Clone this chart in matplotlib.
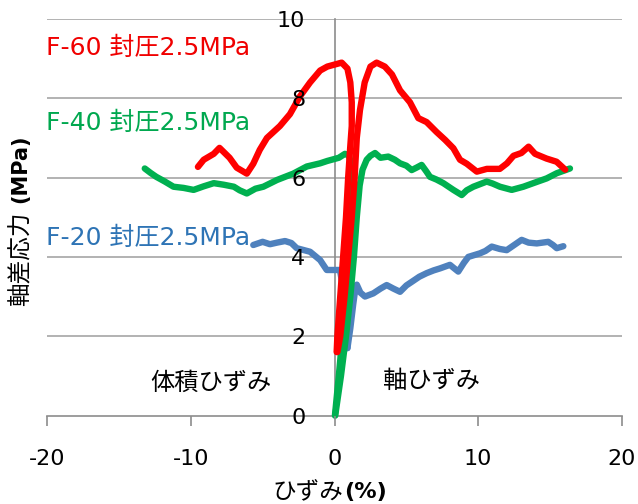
import matplotlib
matplotlib.use("Agg")
import matplotlib.pyplot as plt

plt.rcParams['font.family'] = ['DejaVu Sans', 'Noto Sans CJK JP']
plt.rcParams['axes.unicode_minus'] = False

# F-60 (red) : volumetric branch (left) and axial branch (right)
f60_vol_x = [0.15, 0.2, 0.4, 0.6, 0.8, 0.95, 1.1, 1.2, 1.2, 1.1, 0.9, 0.5, 0.0, -0.5, -1.0, -1.7, -2.4,
             -3.1, -3.8, -4.7, -5.2, -5.65, -6.1, -6.8, -7.3, -8.0, -8.4, -9.1, -9.5]
f60_vol_y = [1.6, 2.0, 3.0, 4.0, 5.0, 6.0, 6.8, 7.3, 7.9, 8.4, 8.75, 8.9, 8.85, 8.8, 8.7, 8.4, 8.05,
             7.6, 7.3, 7.0, 6.7, 6.35, 6.1, 6.25, 6.5, 6.75, 6.6, 6.45, 6.27]
f60_ax_x = [0.2, 0.4, 0.7, 0.95, 1.2, 1.4, 1.55, 1.77, 2.1, 2.5, 2.93, 3.5, 4.0, 4.56, 5.25, 5.83, 6.41,
            7.1, 7.7, 8.27, 8.73, 9.2, 9.9, 10.6, 11.5, 12.0, 12.45, 13.0, 13.5, 13.95, 14.75, 15.45, 16.05]
f60_ax_y = [1.6, 2.0, 3.0, 4.0, 5.0, 6.0, 7.0, 7.7, 8.4, 8.8, 8.9, 8.8, 8.6, 8.2, 7.9, 7.5, 7.4,
            7.15, 6.95, 6.74, 6.45, 6.35, 6.15, 6.22, 6.22, 6.36, 6.55, 6.62, 6.78, 6.6, 6.48, 6.4, 6.2]

# F-40 (green)
f40_vol_x = [0.03, 0.3, 0.55, 0.75, 0.95, 1.1, 1.2, 1.2, 1.0, 0.73, 0.3, 0.0, -0.5, -1.0, -1.93, -2.87,
             -4.0, -4.95, -5.5, -6.1, -6.6, -7.0, -7.7, -8.4, -9.1, -9.8, -10.5, -11.2, -11.8, -12.4,
             -12.8, -13.2]
f40_vol_y = [0.0, 1.0, 2.0, 3.0, 4.0, 5.0, 5.8, 6.3, 6.55, 6.6, 6.5, 6.47, 6.42, 6.36, 6.28, 6.1,
             5.94, 5.77, 5.72, 5.6, 5.68, 5.77, 5.82, 5.86, 5.78, 5.69, 5.74, 5.77, 5.9, 6.02,
             6.12, 6.23]
f40_ax_x = [0.05, 0.45, 0.8, 1.1, 1.35, 1.55, 1.75, 1.95, 2.24, 2.5, 2.82, 3.2, 3.74, 4.2, 4.56, 5.0,
            5.37, 5.7, 6.06, 6.4, 6.64, 7.1, 7.57, 8.27, 8.85, 9.2, 9.66, 10.59, 11.0, 11.51, 12.33,
            13.14, 13.83, 14.76, 15.46, 16.38]
f40_ax_y = [0.0, 1.0, 2.0, 3.0, 4.0, 5.0, 5.8, 6.2, 6.45, 6.55, 6.62, 6.5, 6.53, 6.45, 6.36, 6.3,
            6.19, 6.25, 6.32, 6.15, 6.02, 5.95, 5.86, 5.69, 5.56, 5.68, 5.77, 5.9, 5.85, 5.77, 5.69,
            5.77, 5.86, 5.98, 6.11, 6.23]

# F-20 (blue)
f20_vol_x = [0.9, 0.8, 0.6, 0.38, 0.0, -0.54, -1.0, -1.7, -2.63, -3.0, -3.44, -4.0, -4.49, -5.0, -5.65]
f20_vol_y = [1.7, 2.5, 3.2, 3.67, 3.67, 3.67, 3.92, 4.13, 4.22, 4.35, 4.4, 4.36, 4.32, 4.38, 4.3]
f20_ax_x = [0.9, 1.1, 1.3, 1.45, 1.55, 1.8, 2.12, 2.7, 3.2, 3.63, 4.1, 4.56, 5.0, 5.37, 5.9, 6.41,
            6.9, 7.34, 8.03, 8.3, 8.61, 9.0, 9.31, 10.12, 10.5, 10.94, 11.5, 11.98, 12.5, 13.02,
            13.5, 14.07, 14.87, 15.2, 15.46, 15.92]
f20_ax_y = [1.7, 2.2, 2.8, 3.2, 3.3, 3.1, 3.0, 3.08, 3.2, 3.29, 3.2, 3.12, 3.28, 3.37, 3.5, 3.59,
            3.66, 3.71, 3.80, 3.72, 3.63, 3.85, 4.0, 4.09, 4.15, 4.26, 4.2, 4.17, 4.3, 4.43,
            4.36, 4.34, 4.38, 4.3, 4.22, 4.27]

x_ticks = [-20, -10, 0, 10, 20]
y_ticks = [0, 2, 4, 6, 8, 10]

fig = plt.figure(figsize=(6.38, 5.04), dpi=100)
ax = fig.add_axes([47 / 638, 1 - 415.5 / 504, 575 / 638, 396.5 / 504])

# gridlines under everything
for yv in y_ticks[1:]:
    ax.axhline(yv, color='#a6a6a6', lw=1.2, zorder=0)

style = dict(lw=4.6, solid_capstyle='round', solid_joinstyle='round', clip_on=False, zorder=2)
ax.plot(f20_vol_x, f20_vol_y, color='#4f81bd', **style)
ax.plot(f20_ax_x, f20_ax_y, color='#4f81bd', **style)
ax.plot(f40_vol_x, f40_vol_y, color='#00b050', **style)
ax.plot(f40_ax_x, f40_ax_y, color='#00b050', **style)
ax.plot(f60_vol_x, f60_vol_y, color='#ff0000', **style)
ax.plot(f60_ax_x, f60_ax_y, color='#ff0000', **style)

ax.set_xlim(-20, 20)
ax.set_ylim(0, 10)
ax.set_xticks(x_ticks)
ax.set_yticks(y_ticks)
ax.set_axisbelow(False)  # tick labels drawn over the curves

ax.spines['top'].set_visible(False)
ax.spines['right'].set_visible(False)
ax.spines['left'].set_position(('data', 0))
for s in ['left', 'bottom']:
    ax.spines[s].set_color('#8c8c8c')
    ax.spines[s].set_linewidth(1.2)
    ax.spines[s].set_zorder(1)
ax.tick_params(axis='y', length=0, pad=21, labelsize=16)
ax.tick_params(axis='x', length=7, width=1.2, color='#8c8c8c', direction='out', pad=17, labelsize=16)

ax.text(-20.1, 9.27, 'F-60 封圧2.5MPa', color='#f00000', fontsize=18, va='center', ha='left')
ax.text(-20.1, 7.38, 'F-40 封圧2.5MPa', color='#00a84f', fontsize=18, va='center', ha='left')
ax.text(-20.1, 4.48, 'F-20 封圧2.5MPa', color='#2e74b5', fontsize=18, va='center', ha='left')
ax.text(-12.83, 0.82, '体積ひずみ', fontsize=17.5, va='center', ha='left')
ax.text(3.37, 0.87, '軸ひずみ', fontsize=17.5, va='center', ha='left')

# axis titles: unit part in bold
fig.text(20 / 638, 1 - 306 / 504, '軸差応力', rotation=90, fontsize=17, ha='center', va='bottom')
fig.text(20 / 638, 1 - 203 / 504, '(MPa)', rotation=90, fontsize=15, fontweight='bold',
         ha='center', va='bottom')
fig.text(272 / 638, 1 - 492 / 504, 'ひずみ', fontsize=17, ha='left', va='center')
fig.text(344 / 638, 1 - 492 / 504, '(%)', fontsize=16, fontweight='bold', ha='left', va='center')

fig.savefig('out.png', dpi=100)
